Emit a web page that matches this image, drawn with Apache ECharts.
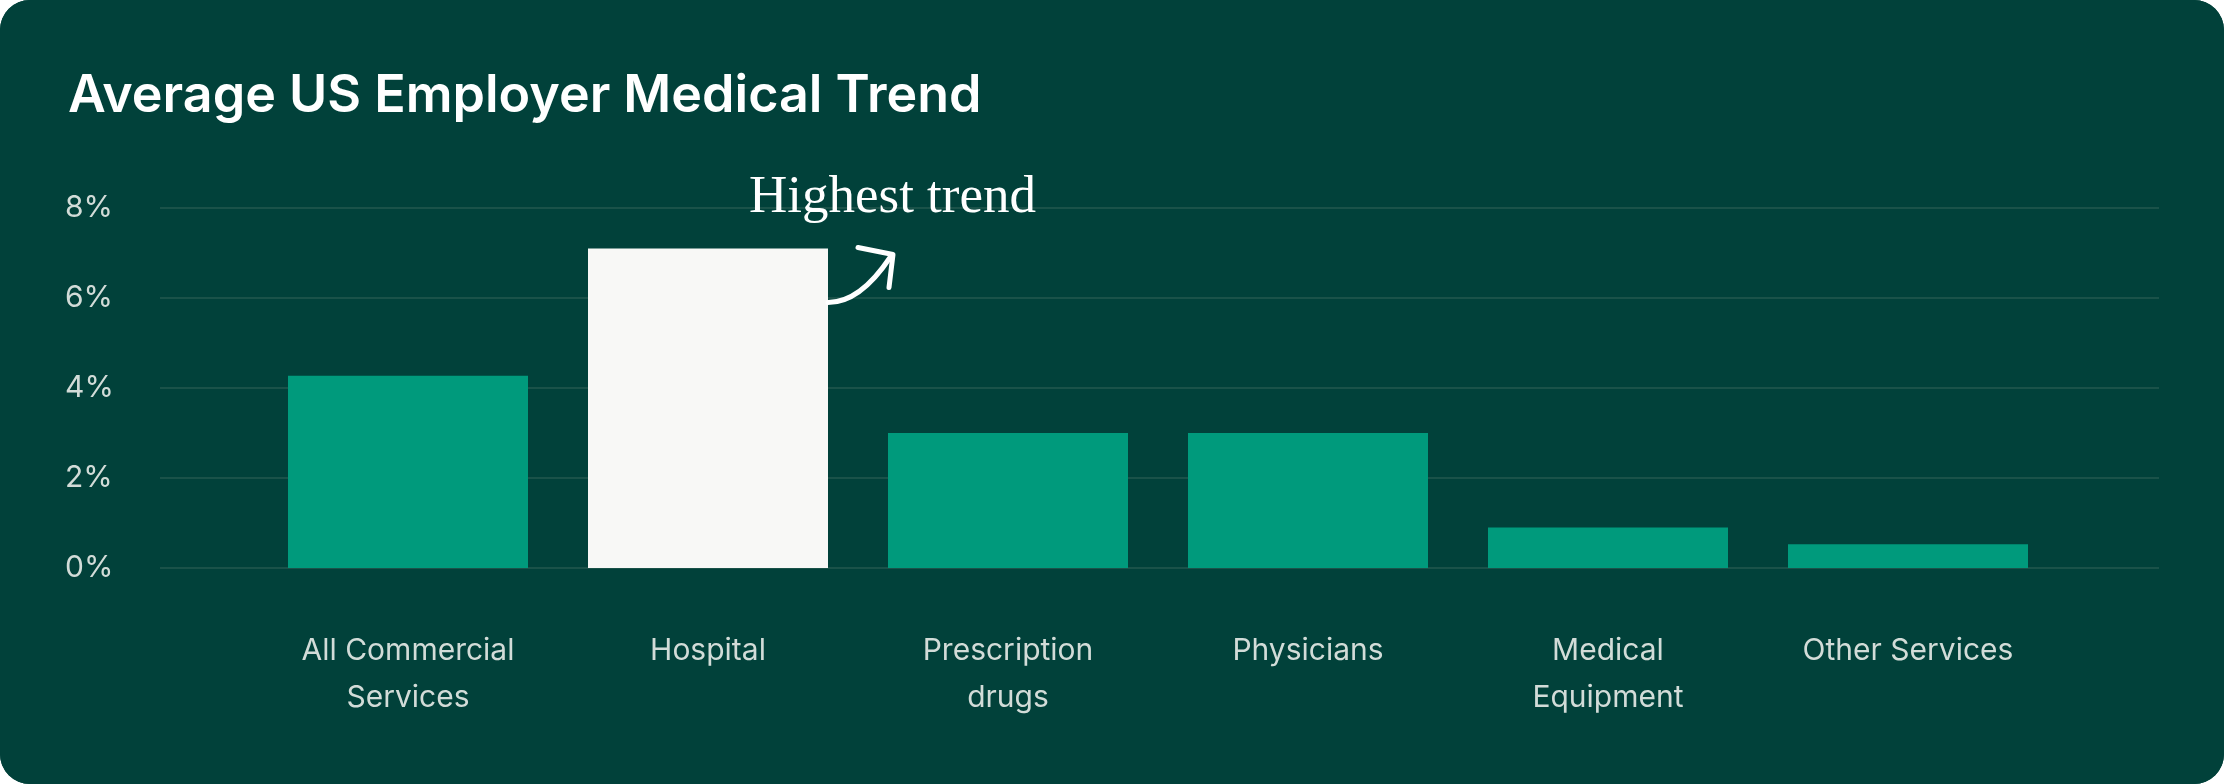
<!DOCTYPE html>
<html>
<head>
<meta charset="utf-8">
<script src="https://cdn.jsdelivr.net/npm/echarts@6/dist/echarts.min.js"></script>
<style>
html,body{margin:0;padding:0;background:#ffffff;width:2224px;height:784px;overflow:hidden}
#c{width:2224px;height:784px;border-radius:30px;overflow:hidden;background:#01413a}
</style>
</head>
<body>
<div id="c"></div>
<script>
const categories = ['All Commercial\nServices', 'Hospital', 'Prescription\ndrugs', 'Physicians', 'Medical\nEquipment', 'Other Services'];
const trendValues = [4.27, 7.1, 3.0, 3.0, 0.9, 0.53];
const highlightIndex = 1;
const yTicks = [0, 2, 4, 6, 8];
const annotationText = 'Highest trend';
const titleText = 'Average US Employer Medical Trend';

const BG = '#01413a', TEAL = '#009a7c', WHITE = '#f8f8f6', GRID = '#1a5249', LABEL = '#d2dcd8';
const yMin = yTicks[0], yMax = yTicks[yTicks.length - 1], yStep = yTicks[1] - yTicks[0];

const chart = echarts.init(document.getElementById('c'), null, {renderer: 'canvas'});
const option = {
  backgroundColor: BG,
  animation: false,
  title: {
    text: titleText, left: 63, top: 65,
    textStyle: {color: '#ffffff', fontSize: 52, fontWeight: 600, fontFamily: 'Inter'}
  },
  grid: [
    {left: 258, right: 166, top: 208, bottom: 216},
    {left: 160, right: 65, top: 208, bottom: 216}
  ],
  xAxis: [
    {
      type: 'category', gridIndex: 0, data: categories,
      axisLine: {show: false}, axisTick: {show: false},
      axisLabel: {color: LABEL, fontSize: 30, lineHeight: 47, margin: 59, fontFamily: 'Inter', interval: 0}
    },
    {type: 'value', gridIndex: 1, min: 0, max: 1, show: false}
  ],
  yAxis: [
    {type: 'value', gridIndex: 0, min: yMin, max: yMax, interval: yStep, show: false},
    {
      type: 'value', gridIndex: 1, min: yMin, max: yMax, interval: yStep,
      axisLine: {show: false}, axisTick: {show: false},
      splitLine: {show: true, lineStyle: {color: GRID, width: 2}},
      axisLabel: {color: LABEL, fontSize: 30, fontFamily: 'Inter', align: 'left', margin: 95, formatter: v => v + '%'}
    }
  ],
  series: [{
    type: 'bar', xAxisIndex: 0, yAxisIndex: 0, barWidth: '80%',
    data: trendValues.map((v, i) => ({value: v, itemStyle: {color: i === highlightIndex ? WHITE : TEAL}})),
    z: 3
  }]
};
chart.setOption(option);

// annotation anchored on the highlighted bar
const barTop = chart.convertToPixel({seriesIndex: 0}, [highlightIndex, trendValues[highlightIndex]]);
const nextTop = chart.convertToPixel({seriesIndex: 0}, [highlightIndex + 1, trendValues[highlightIndex]]);
const band = nextTop[0] - barTop[0];
const rx = barTop[0] + band * 0.4;
const ty = barTop[1];
chart.setOption({
  graphic: [
    {
      type: 'text', x: barTop[0] + 41, y: ty - 24, z: 10,
      style: {text: annotationText, fill: '#ffffff', font: '53px "Liberation Serif"', verticalAlign: 'bottom'}
    },
    {
      type: 'bezierCurve', z: 10,
      shape: {x1: rx, y1: ty + 54, cpx1: rx + 24, cpy1: ty + 54, cpx2: rx + 44, cpy2: ty + 36, x2: rx + 62, y2: ty + 9},
      style: {stroke: '#ffffff', lineWidth: 5, fill: null, lineCap: 'round'}
    },
    {
      type: 'polyline', z: 10,
      shape: {points: [[rx + 30, ty - 1], [rx + 65, ty + 6], [rx + 61, ty + 39]]},
      style: {stroke: '#ffffff', lineWidth: 5, fill: null, lineCap: 'round', lineJoin: 'round'}
    }
  ]
});
</script>
</body>
</html>
